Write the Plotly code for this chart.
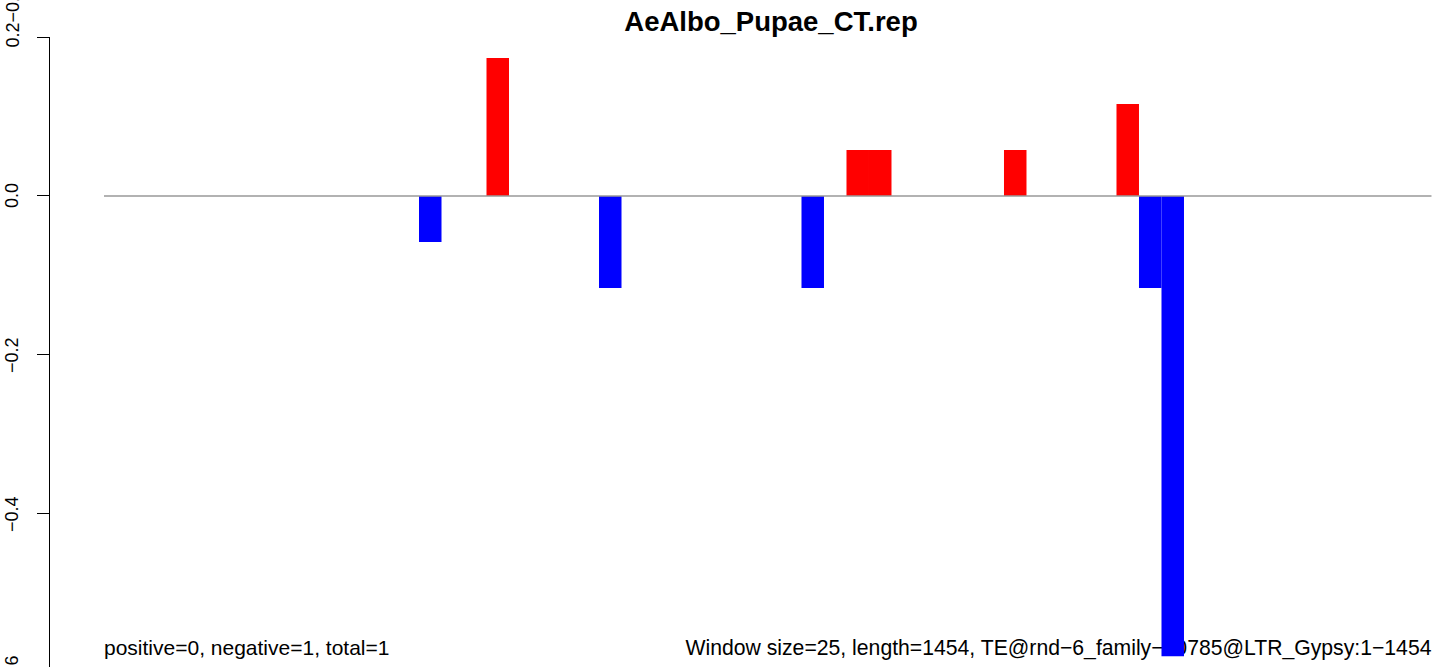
import plotly.graph_objects as go

# ---- data ----
window_size = 25
seq_length = 1454
pos_windows = [17, 33, 34, 40, 45]
pos_values = [0.1736, 0.0579, 0.0579, 0.0579, 0.1157]
neg_windows = [14, 22, 31, 46, 47]
neg_values = [-0.0579, -0.1157, -0.1157, -0.1157, -0.579]
y_tick_vals = [0.2, 0.0, -0.2, -0.4, -0.6]
y_tick_text = ["0.2\u22120.6", "0.0", "\u22120.2", "\u22120.4", "\u22120.6"]
title_text = "AeAlbo_Pupae_CT.rep"
left_note = "positive=0, negative=1, total=1"
right_note = ("Window size=25, length=1454, TE@rnd\u22126_family\u221210785"
              "@LTR_Gypsy:1\u22121454")

n_windows = -(-seq_length // window_size)
x_end = n_windows * window_size

FONT = "Liberation Sans, Arial, sans-serif"
W, H = 1444, 667
L, T = 50, 37
xr = [-60, 1488.9]
yr = [-0.5925, 0.2]

fig = go.Figure()

# notes (under the bars)
fig.add_trace(go.Scatter(
    x=[0], y=[-0.5705], mode="text", text=[left_note],
    textposition="middle right", textfont=dict(size=21, color="black", family=FONT),
    hoverinfo="skip", showlegend=False, xaxis="x", yaxis="y"))
fig.add_trace(go.Scatter(
    x=[x_end], y=[-0.5705], mode="text", text=[right_note],
    textposition="middle left", textfont=dict(size=21.2, color="black", family=FONT),
    hoverinfo="skip", showlegend=False, xaxis="x", yaxis="y"))

fig.add_trace(go.Bar(
    x=[w * window_size + window_size / 2 for w in pos_windows], y=pos_values,
    width=window_size, marker=dict(color="#FF0000", line=dict(width=0)),
    showlegend=False, xaxis="x2", yaxis="y2"))
fig.add_trace(go.Bar(
    x=[w * window_size + window_size / 2 for w in neg_windows], y=neg_values,
    width=window_size, marker=dict(color="#0000FF", line=dict(width=0)),
    showlegend=False, xaxis="x2", yaxis="y2"))
fig.add_trace(go.Scatter(
    x=[0, x_end], y=[0, 0], mode="lines", line=dict(color="#999999", width=1.5),
    hoverinfo="skip", showlegend=False, xaxis="x2", yaxis="y2"))

annots = []
for v, t in zip(y_tick_vals, y_tick_text):
    if v == 0.2:
        annots.append(dict(xref="paper", yref="paper", x=(12 - L) / (W - L),
                           y=(H - 50) / (H - T), xanchor="center", yanchor="bottom",
                           text=t, textangle=-90, showarrow=False,
                           font=dict(size=18, color="black", family=FONT)))
    else:
        annots.append(dict(xref="paper", yref="paper", x=(12 - L) / (W - L),
                           y=(v - yr[0]) / (yr[1] - yr[0]),
                           xanchor="center", yanchor="middle", text=t, textangle=-90,
                           showarrow=False,
                           font=dict(size=18, color="black", family=FONT)))

fig.update_layout(
    width=W, height=H,
    margin=dict(l=L, r=0, t=T, b=0, pad=0),
    paper_bgcolor="white", plot_bgcolor="white",
    barmode="overlay",
    title=dict(text="<b>" + title_text + "</b>", x=(771 - L) / (W - L), xref="paper",
               xanchor="center", y=1 - 21 / H, yanchor="middle",
               font=dict(size=27.5, color="black", family=FONT)),
    xaxis=dict(range=xr, visible=False, fixedrange=True),
    yaxis=dict(range=yr, showline=True, linecolor="black", linewidth=1,
               ticks="outside", ticklen=12, tickcolor="black", tickwidth=1,
               tickvals=y_tick_vals[:4], showticklabels=False,
               showgrid=False, zeroline=False, fixedrange=True),
    xaxis2=dict(range=xr, overlaying="x", visible=False, fixedrange=True),
    yaxis2=dict(range=yr, overlaying="y", visible=False, fixedrange=True),
    annotations=annots,
)

fig.write_html("out.html", config={"displayModeBar": False},
               post_script="document.body.style.margin='0px';")
